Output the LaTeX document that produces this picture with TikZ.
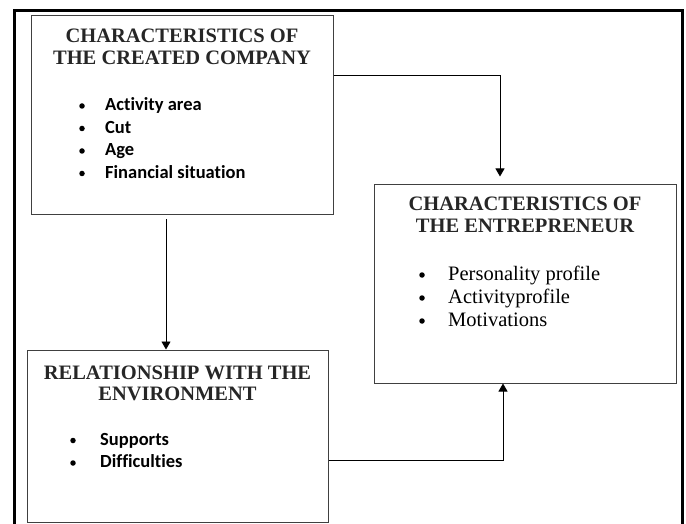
\documentclass[tikz,border=0pt]{standalone}
\usepackage{fontspec}
\setmainfont{Liberation Serif}
\newfontfamily\calib[Ligatures=NoCommon]{Carlito}
\usetikzlibrary{arrows.meta, positioning}

\tikzset{
    box/.style={draw=black!75, line width=1pt, inner sep=0pt},
    head/.style={font=\fontsize{20.5}{22}\selectfont\bfseries, text=black!85, anchor=base, inner sep=0pt},
    itemA/.style={font=\calib\fontsize{18.5}{22}\selectfont\bfseries, anchor=base west, inner sep=0pt},
    itemB/.style={font=\fontsize{20.5}{24}\selectfont, anchor=base west, inner sep=0pt},
    dot/.style={circle, fill=black, inner sep=0pt, minimum size=5.5pt},
    link/.style={-{Triangle[width=9pt,length=8pt]}, line width=0.9pt},
}

\begin{document}
\begin{tikzpicture}[x=1pt, y=-1pt]
    \useasboundingbox (0,0) rectangle (686,524);

    % Outer frame (open at the bottom)
    \begin{scope}
        \clip (0,0) rectangle (686,524);
        \draw[line width=2.8pt] (14.3,540) -- (14.3,10.8) -- (682.3,10.8) -- (682.3,540);
    \end{scope}

    % Boxes
    \node[box, minimum width=302pt, minimum height=199pt] (company) at (182,115.5) {};
    \node[box, minimum width=302pt, minimum height=198pt] (entre) at (525,284) {};
    \node[box, minimum width=301pt, minimum height=172pt] (relation) at (177.5,436) {};

    % Created company
    \node[head] (companyT1) at (182,43) {CHARACTERISTICS OF};
    \node[head] (companyT2) at (182,65) {THE CREATED COMPANY};
    \node[dot] (companyD1) at (82,106) {};
    \node[itemA] (companyI1) at (105,111) {Activity area};
    \node[dot] (companyD2) at (82,128.5) {};
    \node[itemA] (companyI2) at (105,133.5) {Cut};
    \node[dot] (companyD3) at (82,151) {};
    \node[itemA] (companyI3) at (105,156) {Age};
    \node[dot] (companyD4) at (82,173.5) {};
    \node[itemA] (companyI4) at (105,178.5) {Financial situation};

    % Entrepreneur
    \node[head] (entreT1) at (525,211) {CHARACTERISTICS OF};
    \node[head] (entreT2) at (525,233) {THE ENTREPRENEUR};
    \node[dot] (entreD1) at (422,275) {};
    \node[itemB] (entreI1) at (448,280.5) {Personality profile};
    \node[dot] (entreD2) at (422,298) {};
    \node[itemB] (entreI2) at (448,303.5) {Activityprofile};
    \node[dot] (entreD3) at (422,321) {};
    \node[itemB] (entreI3) at (448,326.5) {Motivations};

    % Environment
    \node[head] (relationT1) at (177.5,379) {RELATIONSHIP WITH THE};
    \node[head] (relationT2) at (177.5,400) {ENVIRONMENT};
    \node[dot] (relationD1) at (73,440.5) {};
    \node[itemA] (relationI1) at (100,445) {Supports};
    \node[dot] (relationD2) at (73,463) {};
    \node[itemA] (relationI2) at (100,467.5) {Difficulties};

    % Links
    \coordinate (bendA) at (500,75);
    \coordinate (colB) at (166,0);
    \coordinate (bendC) at (503,460);
    \draw[link] (company.east |- bendA) -| ([yshift=8pt]entre.north -| bendA);
    \draw[link] ([yshift=-4pt]company.south -| colB) -- (relation.north -| colB);
    \draw[link] (relation.east |- bendC) -| (entre.south -| bendC);
\end{tikzpicture}
\end{document}
